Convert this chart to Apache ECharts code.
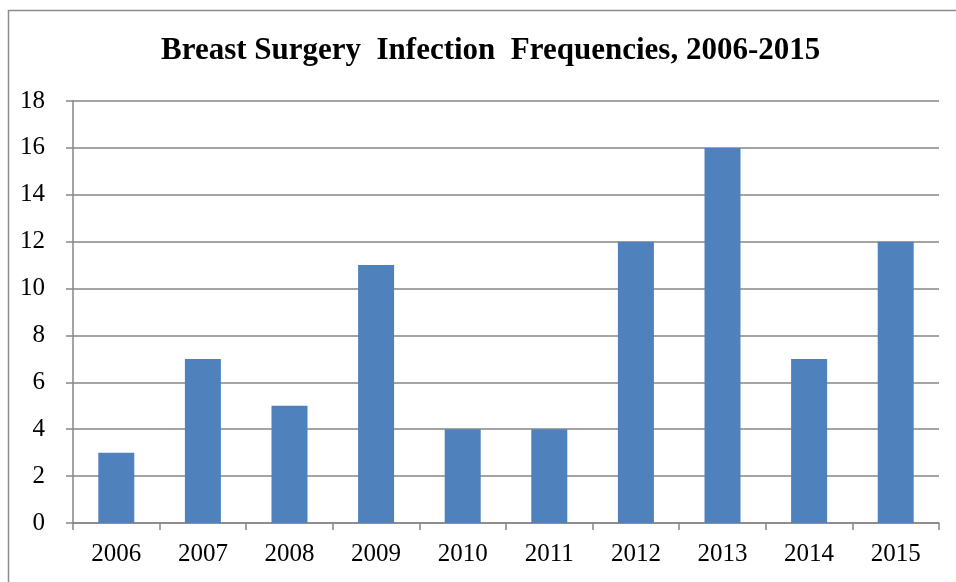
<!DOCTYPE html>
<html><head><meta charset="utf-8">
<script src="https://cdn.jsdelivr.net/npm/echarts@6/dist/echarts.min.js"></script>
<style>html,body{margin:0;padding:0;background:#fff}#c{width:956px;height:582px}</style>
</head><body><div id="c"></div>
<script>
const years = ['2006','2007','2008','2009','2010','2011','2012','2013','2014','2015'];
const infections = [3, 7, 5, 11, 4, 4, 12, 16, 7, 12];
const titleText = 'Breast Surgery  Infection  Frequencies, 2006-2015';

const chart = echarts.init(document.getElementById('c'));
const font = '"Liberation Serif", "Times New Roman", serif';
chart.setOption({
  backgroundColor: '#fff',
  animation: false,
  graphic: [{
    type: 'rect', shape: {x: 8.5, y: 10.5, width: 1200, height: 1200},
    style: {fill: 'none', stroke: '#8c8c8c', lineWidth: 1.5}, silent: true, z: -1
  }],
  title: {
    text: titleText, left: 156, top: 30,
    textStyle: {fontFamily: font, fontWeight: 'bold', fontSize: 31, color: '#000'}
  },
  grid: {left: 73, right: 17, top: 101, bottom: 59, containLabel: false},
  xAxis: {
    type: 'category', data: years,
    axisLine: {lineStyle: {color: '#868686', width: 1.5}},
    axisTick: {show: true, length: 7, alignWithLabel: false, lineStyle: {color: '#868686', width: 1.5}},
    axisLabel: {fontFamily: font, fontSize: 25, color: '#000', margin: 19}
  },
  yAxis: {
    type: 'value', min: 0, max: 18, interval: 2,
    axisLine: {show: true, lineStyle: {color: '#868686', width: 1.5}},
    axisTick: {show: true, length: 7, lineStyle: {color: '#868686', width: 1.5}},
    splitLine: {lineStyle: {color: '#868686', width: 1.5}},
    axisLabel: {fontFamily: font, fontSize: 25, color: '#000', margin: 28}
  },
  series: [{
    type: 'bar', data: infections, barWidth: 36,
    itemStyle: {color: '#4F81BD'}
  }]
});
</script></body></html>
